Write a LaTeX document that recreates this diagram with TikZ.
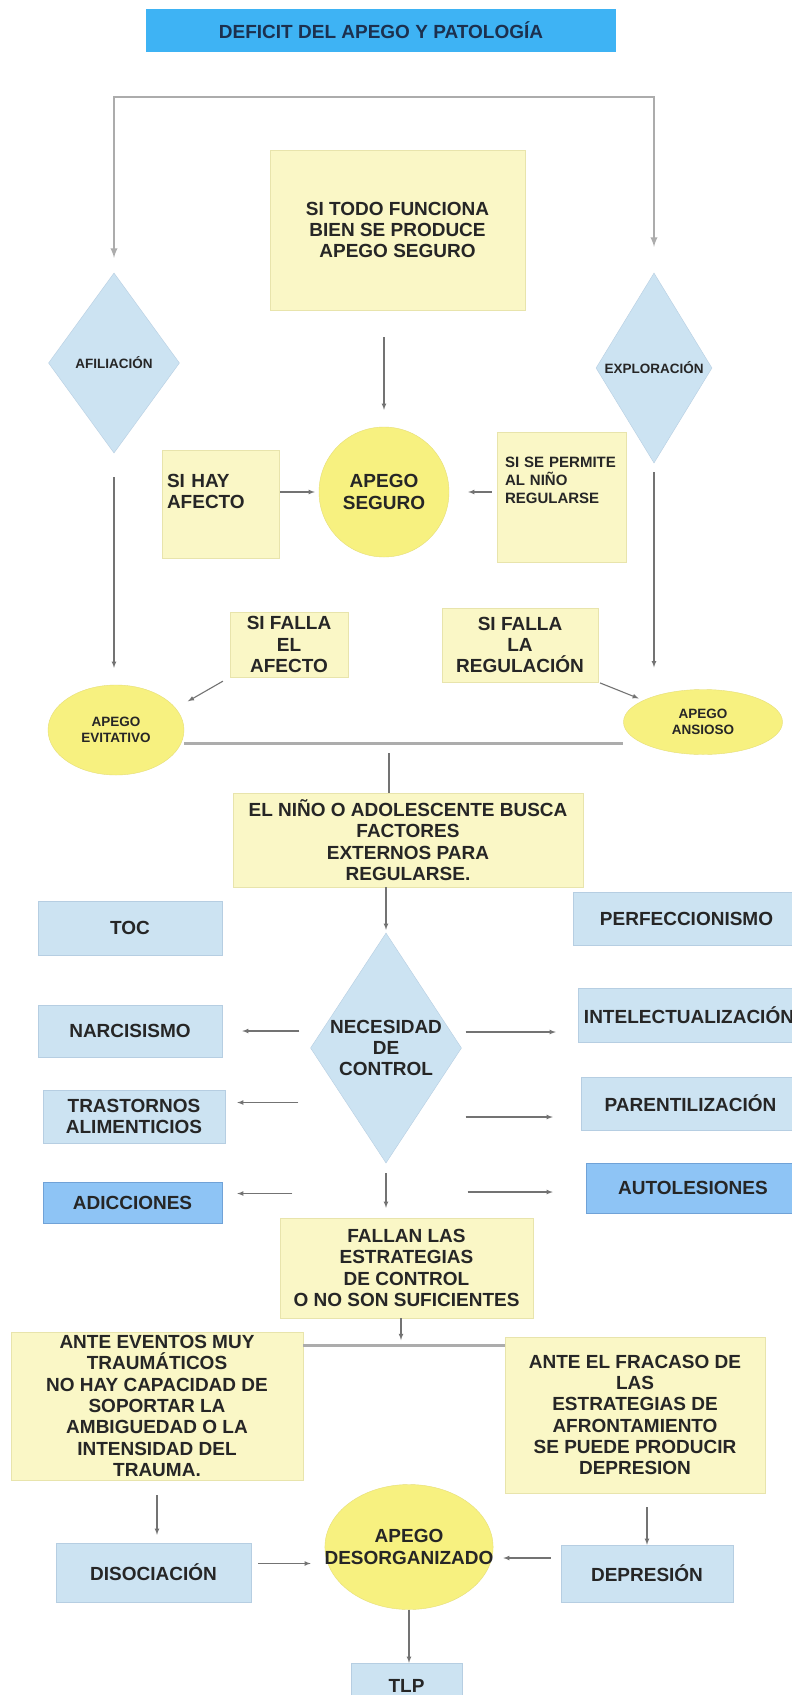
\documentclass[tikz,border=0pt]{standalone}
\usepackage{fontspec}
\setmainfont{Liberation Sans}
\usepackage{tikz}
\usetikzlibrary{shapes.geometric, arrows}

\definecolor{titleblue}{RGB}{62,179,244}
\definecolor{titletext}{RGB}{28,48,78}
\definecolor{yfill}{RGB}{250,247,198}
\definecolor{yborder}{RGB}{232,228,172}
\definecolor{cfill}{RGB}{247,241,128}
\definecolor{cborder}{RGB}{230,222,120}
\definecolor{bfill}{RGB}{204,227,242}
\definecolor{bborder}{RGB}{182,206,226}
\definecolor{dfill}{RGB}{142,196,245}
\definecolor{dborder}{RGB}{112,162,215}
\definecolor{linegray}{RGB}{115,115,115}
\definecolor{bargray}{RGB}{172,172,172}
\definecolor{ink}{RGB}{38,38,38}

\newcommand{\boxfont}{\fontsize{19}{21.3}\selectfont\bfseries}
\newcommand{\midboxfont}{\fontsize{15}{18}\selectfont\bfseries}
\newcommand{\smallboxfont}{\fontsize{13.5}{15.5}\selectfont\bfseries}

\tikzstyle{ybox} = [rectangle, draw=yborder, fill=yfill, text=ink, align=center, inner sep=0pt, font=\boxfont]
\tikzstyle{bbox} = [rectangle, draw=bborder, fill=bfill, text=ink, align=center, inner sep=0pt, font=\boxfont]
\tikzstyle{dbox} = [bbox, draw=dborder, fill=dfill]
\tikzstyle{ycirc} = [ellipse, draw=cborder, fill=cfill, text=ink, align=center, inner sep=0pt, font=\boxfont]
\tikzstyle{bdiam} = [diamond, draw=bborder, fill=bfill, text=ink, align=center, inner sep=0pt]
\tikzstyle{conn} = [draw=linegray, line width=1.1pt, -latex]
\tikzstyle{joinline} = [draw=bargray, line width=3pt]

\begin{document}
\begin{tikzpicture}[x=1pt,y=-1pt,>=latex]
\useasboundingbox (0,0) rectangle (792,1695);
\clip (0,0) rectangle (792,1695);
\fill[white] (0,0) rectangle (792,1695);

% title
\node[rectangle, fill=titleblue, text=titletext, minimum width=470, minimum height=43, font=\boxfont] (title) at (381,30.5) {DEFICIT DEL APEGO Y PATOLOGÍA};

% apego seguro
\node[ybox, minimum width=255, minimum height=160] (todo) at (397.5,230) {SI TODO FUNCIONA\\BIEN SE PRODUCE\\APEGO SEGURO};
\node[ycirc, minimum width=130, minimum height=130] (seguro) at (384,492) {APEGO\\SEGURO};
\node[ybox, minimum width=117, minimum height=108, text width=107, align=left] (afecto) at (220.5,504) {SI HAY\\AFECTO\\[3.7pt]\mbox{}};
\node[ybox, font=\midboxfont, minimum width=129, minimum height=130, text width=113, align=left] (permite) at (561.5,497) {SI SE PERMITE\\AL NIÑO\\REGULARSE\\[16pt]\mbox{}};
\node[bdiam, font=\smallboxfont, minimum width=131, minimum height=180] (afil) at (114,363) {AFILIACIÓN};
\node[bdiam, font=\smallboxfont, minimum width=116, minimum height=190] (explo) at (654,368) {EXPLORACIÓN};
\coordinate (cima) at (388,97);

% evitativo / ansioso
\node[ybox, minimum width=118, minimum height=65] (faltaafecto) at (289,644.5) {SI FALLA\\EL\\AFECTO};
\node[ybox, minimum width=156, minimum height=74] (faltareg) at (520,645) {SI FALLA\\LA\\REGULACIÓN};
\node[ycirc, font=\smallboxfont, minimum width=136, minimum height=90] (evitativo) at (116,730) {APEGO\\EVITATIVO};
\node[ycirc, font=\smallboxfont, minimum width=159, minimum height=65] (ansioso) at (703,722) {APEGO\\ANSIOSO};
\coordinate (unionA) at (389,743);
\node[ybox, minimum width=350, minimum height=94] (busca) at (408,840) {EL NIÑO O ADOLESCENTE BUSCA\\FACTORES\\EXTERNOS PARA\\REGULARSE.};

% necesidad de control
\node[bdiam, font=\boxfont, minimum width=151, minimum height=230, shape aspect=0.66] (control) at (386,1048) {NECESIDAD\\DE\\CONTROL};
\node[bbox, minimum width=184, minimum height=54] (toc) at (130,928) {TOC};
\node[bbox, minimum width=227, minimum height=53] (perfec) at (686.5,918.5) {PERFECCIONISMO};
\node[bbox, minimum width=184, minimum height=52] (narcis) at (130,1031) {NARCISISMO};
\node[bbox, minimum width=222, minimum height=54] (intelec) at (689,1015) {INTELECTUALIZACIÓN};
\node[bbox, minimum width=182, minimum height=53] (trastor) at (134,1116.5) {TRASTORNOS\\ALIMENTICIOS};
\node[bbox, minimum width=219, minimum height=53] (parent) at (690.5,1103.5) {PARENTILIZACIÓN};
\node[dbox, minimum width=179, minimum height=41] (adicc) at (132.5,1202.5) {ADICCIONES};
\node[dbox, minimum width=214, minimum height=50] (autoles) at (693,1188) {AUTOLESIONES};

% apego desorganizado
\node[ybox, minimum width=253, minimum height=100] (fallan) at (406.5,1268) {FALLAN LAS\\ESTRATEGIAS\\DE CONTROL\\O NO SON SUFICIENTES};
\coordinate (unionB) at (401,1345);
\node[ybox, minimum width=292, minimum height=148] (eventos) at (157,1406) {ANTE EVENTOS MUY\\TRAUMÁTICOS\\NO HAY CAPACIDAD DE\\SOPORTAR LA\\AMBIGUEDAD O LA\\INTENSIDAD DEL\\TRAUMA.};
\node[ybox, minimum width=260, minimum height=156] (fracaso) at (635,1415) {ANTE EL FRACASO DE\\LAS\\ESTRATEGIAS DE\\AFRONTAMIENTO\\SE PUEDE PRODUCIR\\DEPRESION};
\node[bbox, minimum width=195, minimum height=59] (disoc) at (153.5,1572.5) {DISOCIACIÓN};
\node[bbox, minimum width=172, minimum height=57] (depres) at (647,1573.5) {DEPRESIÓN};
\node[ycirc, inner xsep=-25pt, minimum width=168, minimum height=125] (desorg) at (409,1547) {APEGO\\DESORGANIZADO};
\node[bbox, minimum width=111, minimum height=46] (tlp) at (406.5,1686) {TLP};

% connectors
\draw[joinline, line width=2.2pt, latex-latex, shorten <=15pt, shorten >=26pt] (afil.north) |- (cima) -| (explo.north);
\draw[conn, shorten <=27pt, shorten >=17pt] (todo.south -| seguro) -- (seguro.north);
\draw[conn, shorten <=1pt, shorten >=4pt] (afecto.east |- seguro) -- (seguro.west);
\draw[conn, shorten <=5pt, shorten >=19pt] (permite.west |- seguro) -- (seguro.east);
\draw[conn, shorten <=24pt, shorten >=17pt] (afil.south) -- (afil.south |- evitativo.north);
\draw[conn, shorten <=9pt, shorten >=22pt] (explo.south) -- (explo.south |- ansioso.north);
\draw[conn, shorten <=8pt, shorten >=14pt] (faltaafecto.south west) -- (evitativo.20);
\draw[conn, shorten <=2pt, shorten >=5pt] (faltareg.south east) -- (ansioso.160);
\draw[joinline] (evitativo.east |- unionA) -- (ansioso.west |- unionA);
\draw[conn, -, shorten <=10pt] (unionA) -- (unionA |- busca.north);
\draw[conn, shorten >=3pt] (busca.south -| control) -- (control.north);
\draw[conn, shorten <=10pt, shorten >=10pt] (control.south) -- (control.south |- fallan.north);

\draw[conn, shorten <=11pt, shorten >=20pt] (control.west |- narcis) -- (narcis.east);
\draw[conn, shorten <=12pt, shorten >=12pt] ([yshift=14pt]trastor.east -| control.west) -- ([yshift=14pt]trastor.east);
\draw[conn, shorten <=18pt, shorten >=15pt] ([yshift=9pt]adicc.east -| control.west) -- ([yshift=9pt]adicc.east);
\draw[conn, shorten <=4pt, shorten >=22pt] ([yshift=-17pt]intelec.west -| control.east) -- ([yshift=-17pt]intelec.west);
\draw[conn, shorten <=4pt, shorten >=28pt] ([yshift=-13.5pt]parent.west -| control.east) -- ([yshift=-13.5pt]parent.west);
\draw[conn, shorten <=6pt, shorten >=33pt] ([yshift=-4pt]autoles.west -| control.east) -- ([yshift=-4pt]autoles.west);

\draw[conn, shorten >=5pt] (fallan.south -| unionB) -- (unionB);
\draw[joinline] (eventos.east |- unionB) -- (fracaso.west |- unionB);
\draw[conn, shorten <=15pt, shorten >=8pt] (eventos.south) -- (eventos.south |- disoc.north);
\draw[conn, shorten <=14pt] (depres.north |- fracaso.south) -- (depres.north);
\draw[conn, shorten <=7pt, shorten >=14pt] ([yshift=9pt]disoc.east) -- ([yshift=9pt]disoc.east -| desorg.west);
\draw[conn, shorten <=10pt, shorten >=10pt] ([yshift=15.5pt]depres.west) -- ([yshift=15.5pt]depres.west -| desorg.east);
\draw[conn] (desorg.south) -- (desorg.south |- tlp.north);
\end{tikzpicture}
\end{document}
